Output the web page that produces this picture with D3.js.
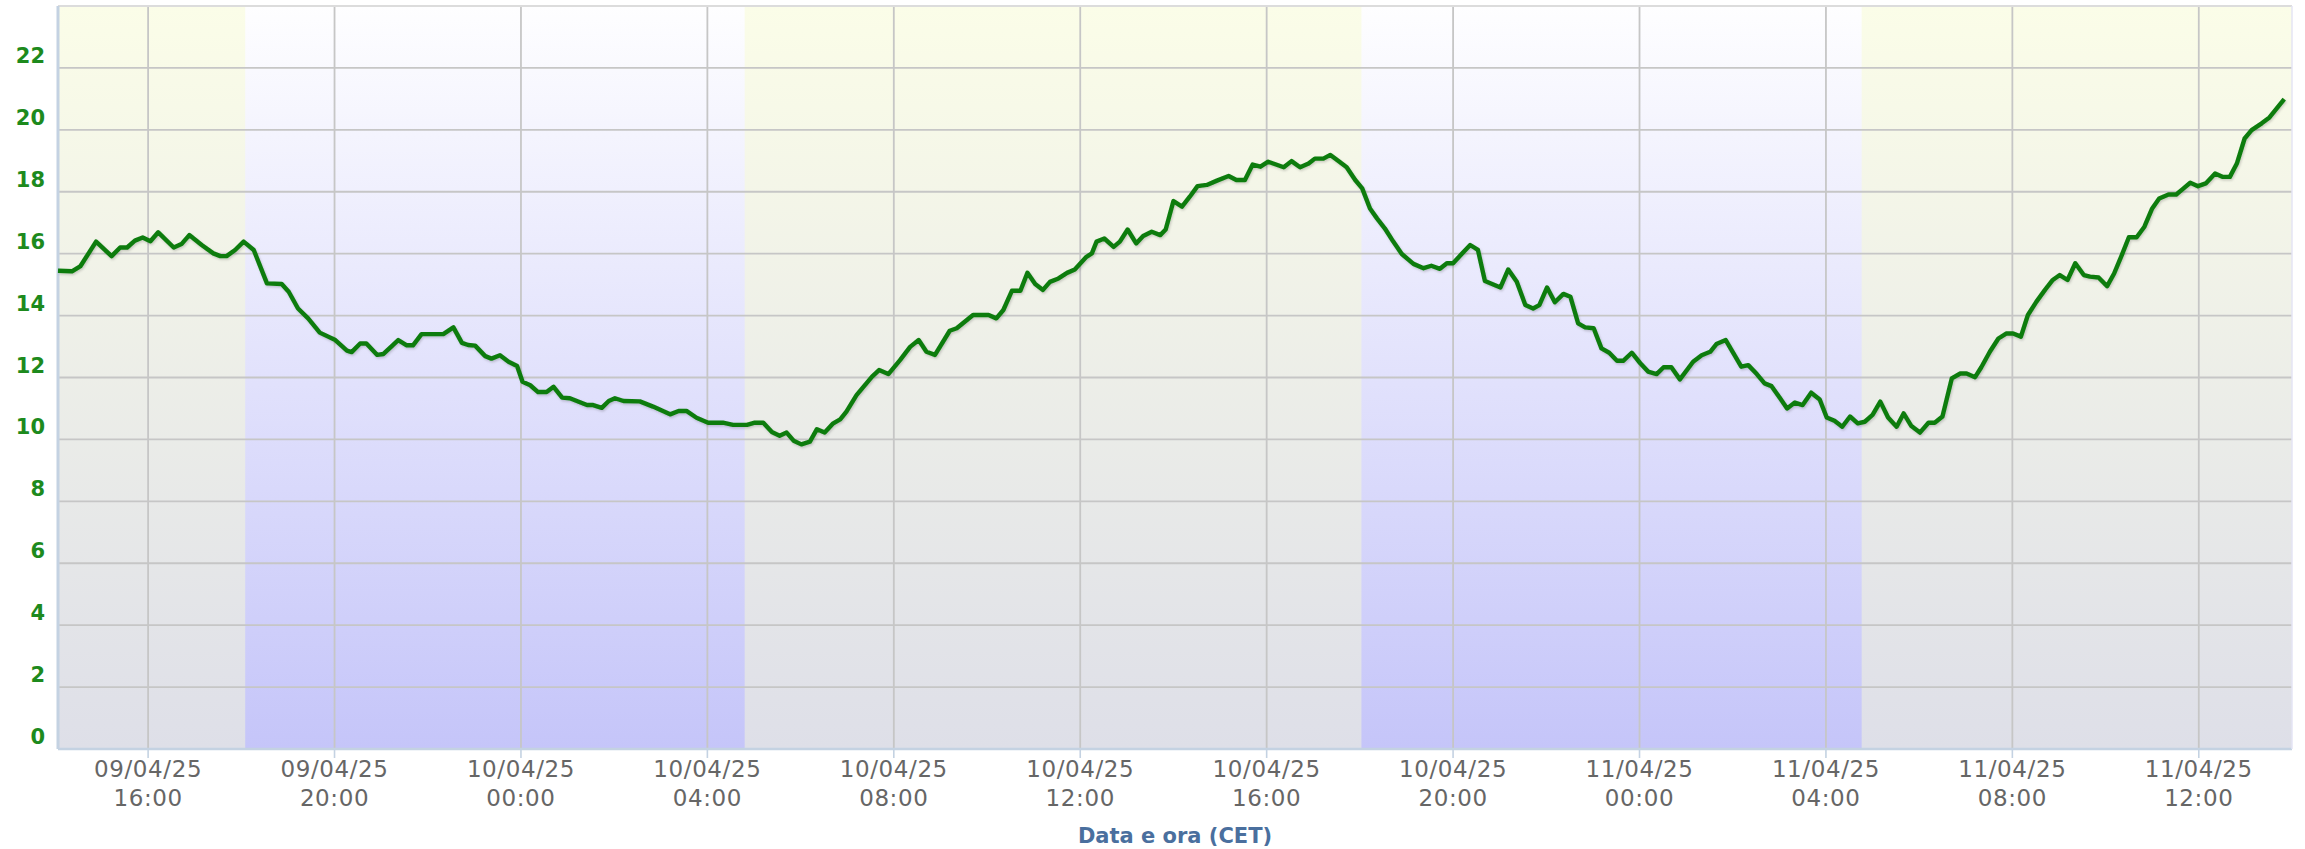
<!DOCTYPE html>
<html>
<head>
<meta charset="utf-8">
<script src="https://cdn.jsdelivr.net/npm/d3@7"></script>
<style>
  html, body { margin: 0; padding: 0; background: #fff; }
  #graf { width: 2305px; height: 849px; }
  text { font-family: "DejaVu Sans", Verdana, sans-serif; }
</style>
</head>
<body>
<div id="graf"></div>
<script>
//// DATI: orari (dd/mm HH:MM, anno 2025) e temperature (°C)
orari = [
  '09/04 14:04','09/04 14:22','09/04 14:33','09/04 14:53','09/04 15:13','09/04 15:24','09/04 15:33','09/04 15:43','09/04 15:53',
  '09/04 16:03','09/04 16:13','09/04 16:33','09/04 16:43','09/04 16:53','09/04 17:09','09/04 17:24','09/04 17:33','09/04 17:41',
  '09/04 17:52','09/04 18:03','09/04 18:16','09/04 18:33','09/04 18:52','09/04 19:01','09/04 19:13','09/04 19:26','09/04 19:41',
  '09/04 20:01','09/04 20:16','09/04 20:22','09/04 20:33','09/04 20:41','09/04 20:55','09/04 21:03','09/04 21:22','09/04 21:33',
  '09/04 21:41','09/04 21:52','09/04 22:20','09/04 22:33','09/04 22:44','09/04 22:52','09/04 23:01','09/04 23:14','09/04 23:22',
  '09/04 23:33','09/04 23:44','09/04 23:55',
  '10/04 00:02','10/04 00:12','10/04 00:22','10/04 00:33','10/04 00:42','10/04 00:53','10/04 01:03','10/04 01:25','10/04 01:33',
  '10/04 01:44','10/04 01:53','10/04 02:01','10/04 02:12','10/04 02:33','10/04 02:50','10/04 03:12','10/04 03:23','10/04 03:33',
  '10/04 03:46','10/04 04:01','10/04 04:20','10/04 04:33','10/04 04:51','10/04 05:01','10/04 05:12','10/04 05:23','10/04 05:33',
  '10/04 05:42','10/04 05:51','10/04 06:01','10/04 06:12','10/04 06:21','10/04 06:31','10/04 06:42','10/04 06:51','10/04 06:59',
  '10/04 07:12','10/04 07:32','10/04 07:41','10/04 07:53','10/04 08:08','10/04 08:21','10/04 08:32','10/04 08:42','10/04 08:53',
  '10/04 09:12','10/04 09:21','10/04 09:42','10/04 10:02','10/04 10:12','10/04 10:21','10/04 10:32','10/04 10:43','10/04 10:52',
  '10/04 11:02','10/04 11:12','10/04 11:21','10/04 11:32','10/04 11:43','10/04 11:53','10/04 12:08','10/04 12:15','10/04 12:21',
  '10/04 12:31','10/04 12:43','10/04 12:51','10/04 13:01','10/04 13:12','10/04 13:21','10/04 13:32','10/04 13:43','10/04 13:50',
  '10/04 14:00','10/04 14:11','10/04 14:21','10/04 14:31','10/04 14:43','10/04 14:56','10/04 15:11','10/04 15:21','10/04 15:32',
  '10/04 15:42','10/04 15:52','10/04 16:02','10/04 16:22','10/04 16:32','10/04 16:43','10/04 16:54','10/04 17:02','10/04 17:13',
  '10/04 17:22','10/04 17:32','10/04 17:43','10/04 17:54','10/04 18:03','10/04 18:13','10/04 18:22','10/04 18:32','10/04 18:43',
  '10/04 18:54','10/04 19:09','10/04 19:22','10/04 19:32','10/04 19:43','10/04 19:52','10/04 20:00','10/04 20:11','10/04 20:22',
  '10/04 20:32','10/04 20:41','10/04 21:01','10/04 21:11','10/04 21:22','10/04 21:33','10/04 21:43','10/04 21:51','10/04 22:01',
  '10/04 22:11','10/04 22:22','10/04 22:31','10/04 22:41','10/04 22:50','10/04 23:01','10/04 23:11','10/04 23:21','10/04 23:31',
  '10/04 23:39','10/04 23:50',
  '11/04 00:01','11/04 00:11','11/04 00:22','11/04 00:31','11/04 00:41','11/04 00:52','11/04 01:09','11/04 01:20','11/04 01:31',
  '11/04 01:39','11/04 01:51','11/04 02:11','11/04 02:20','11/04 02:31','11/04 02:41','11/04 02:50','11/04 03:01','11/04 03:10',
  '11/04 03:20','11/04 03:30','11/04 03:41','11/04 03:52','11/04 04:01','11/04 04:11','11/04 04:21','11/04 04:31','11/04 04:41',
  '11/04 04:50','11/04 05:00','11/04 05:10','11/04 05:20','11/04 05:31','11/04 05:40','11/04 05:50','11/04 06:01','11/04 06:12',
  '11/04 06:20','11/04 06:30','11/04 06:42','11/04 06:53','11/04 07:01','11/04 07:12','11/04 07:20','11/04 07:31','11/04 07:42',
  '11/04 07:52','11/04 08:01','11/04 08:11','11/04 08:20','11/04 08:31','11/04 08:42','11/04 08:52','11/04 09:01','11/04 09:11',
  '11/04 09:21','11/04 09:32','11/04 09:40','11/04 09:51','11/04 10:02','11/04 10:11','11/04 10:21','11/04 10:30','11/04 10:40',
  '11/04 10:50','11/04 11:00','11/04 11:09','11/04 11:21','11/04 11:31','11/04 11:40','11/04 11:49','11/04 11:59','11/04 12:09',
  '11/04 12:21','11/04 12:31','11/04 12:40','11/04 12:49','11/04 12:59','11/04 13:08','11/04 13:21','11/04 13:31','11/04 13:50'
]
temperature = [
  15.45,15.43,15.6,16.39,15.92,16.2,16.2,16.42,16.52,
  16.4,16.69,16.2,16.31,16.6,16.28,16.01,15.92,15.92,
  16.12,16.39,16.12,15.04,15.02,14.77,14.23,13.91,13.45,
  13.21,12.87,12.82,13.1,13.1,12.73,12.76,13.21,13.04,
  13.04,13.4,13.4,13.62,13.12,13.05,13.03,12.69,12.61,
  12.72,12.51,12.37,
  11.86,11.75,11.53,11.53,11.7,11.35,11.33,11.11,11.11,
  11.02,11.24,11.33,11.24,11.23,11.06,10.81,10.92,10.92,
  10.7,10.54,10.54,10.47,10.47,10.54,10.54,10.24,10.12,
  10.22,9.96,9.84,9.93,10.33,10.22,10.52,10.65,10.9,
  11.43,12.03,12.24,12.11,12.56,12.99,13.21,12.83,12.73,
  13.51,13.59,14.02,14.02,13.91,14.18,14.8,14.8,15.38,
  15.02,14.83,15.09,15.2,15.38,15.49,15.9,16.01,16.39,
  16.49,16.22,16.39,16.78,16.33,16.57,16.71,16.6,16.78,
  17.7,17.52,17.84,18.18,18.22,18.36,18.51,18.38,18.38,
  18.88,18.81,18.97,18.79,18.99,18.79,18.91,19.07,19.07,
  19.19,19.0,18.79,18.38,18.11,17.46,17.14,16.82,16.39,
  15.99,15.67,15.53,15.61,15.51,15.69,15.69,15.99,16.28,
  16.12,15.12,14.91,15.49,15.09,14.34,14.23,14.34,14.91,
  14.43,14.7,14.61,13.75,13.62,13.59,12.94,12.8,12.54,
  12.54,12.8,
  12.46,12.19,12.11,12.33,12.33,11.94,12.51,12.72,12.83,
  13.08,13.21,12.35,12.4,12.11,11.81,11.72,11.33,11.0,
  11.19,11.11,11.51,11.29,10.71,10.6,10.41,10.74,10.52,
  10.57,10.79,11.22,10.71,10.41,10.84,10.43,10.22,10.54,
  10.54,10.74,11.97,12.13,12.13,12.01,12.33,12.83,13.26,
  13.42,13.42,13.32,14.02,14.45,14.83,15.15,15.31,15.15,
  15.69,15.31,15.26,15.23,14.95,15.36,15.96,16.53,16.53,
  16.87,17.46,17.78,17.91,17.91,18.1,18.29,18.18,18.27,
  18.59,18.48,18.48,18.91,19.72,19.99,20.21,20.4,20.99
]
//// FASCE NOTTURNE (inizio, fine)
notteInizio = ['09/04 18:05', '10/04 18:02']
notteFine   = ['10/04 04:48', '11/04 04:46']
//// DOMINIO ASSI
inizioAsse = '09/04 14:04'
fineAsse   = '11/04 14:00'
yTicks = [0, 2, 4, 6, 8, 10, 12, 14, 16, 18, 20, 22]

parseTime = d3.timeParse('%d/%m %H:%M %Y')
p = s => parseTime(s + ' 2025')

data = orari.map((o, i) => ({ date: p(o), temp: temperature[i] }))
notti = notteInizio.map((n, i) => ({ da: p(n), a: p(notteFine[i]) }))

//// DIMENSIONI
ancho_total = 2305
alto_total = 849
margins = { top: 6, left: 58, right: 13, bottom: 100 }
ancho = ancho_total - margins.left - margins.right
alto = alto_total - margins.top - margins.bottom

svg = d3.select('#graf').append('svg')
  .attr('width', ancho_total)
  .attr('height', alto_total)

defs = svg.append('defs')
gDia = defs.append('linearGradient').attr('id', 'giorno')
  .attr('x1', 0).attr('y1', 0).attr('x2', 0).attr('y2', 1)
gDia.append('stop').attr('offset', '0%').attr('stop-color', '#fbfde8')
gDia.append('stop').attr('offset', '100%').attr('stop-color', '#dedfe8')
gNotte = defs.append('linearGradient').attr('id', 'notte')
  .attr('x1', 0).attr('y1', 0).attr('x2', 0).attr('y2', 1)
gNotte.append('stop').attr('offset', '0%').attr('stop-color', '#fefeff')
gNotte.append('stop').attr('offset', '100%').attr('stop-color', '#c5c5f9')
ombra = defs.append('filter').attr('id', 'ombra')
  .attr('x', '-5%').attr('y', '-5%').attr('width', '110%').attr('height', '120%')
ombra.append('feDropShadow').attr('dx', 1).attr('dy', 1.5)
  .attr('stdDeviation', 1.2).attr('flood-color', '#000').attr('flood-opacity', 0.18)

g = svg.append('g').attr('transform', `translate(${margins.left},${margins.top})`)

//// SCALE
x = d3.scaleTime().domain([p(inizioAsse), p(fineAsse)]).range([0, ancho])
y = d3.scaleLinear().domain([0, 24]).range([alto, 0])

//// SFONDO E FASCE NOTTURNE
g.append('rect').attr('width', ancho).attr('height', alto).attr('fill', 'url(#giorno)')
g.selectAll('.notte').data(notti).enter().append('rect')
  .attr('class', 'notte')
  .attr('x', d => x(d.da))
  .attr('width', d => x(d.a) - x(d.da))
  .attr('y', 0).attr('height', alto)
  .attr('fill', 'url(#notte)')

//// GRIGLIA
xTicks = x.ticks(d3.timeHour.every(4))
g.selectAll('.gx').data(xTicks).enter().append('line')
  .attr('x1', d => x(d)).attr('x2', d => x(d))
  .attr('y1', 0).attr('y2', alto)
  .attr('stroke', '#c6c6c6').attr('stroke-width', 1.8)
g.selectAll('.gy').data(yTicks.concat([24])).enter().append('line')
  .attr('x1', 0).attr('x2', ancho)
  .attr('y1', d => y(d)).attr('y2', d => y(d))
  .attr('stroke', d => d === 24 ? '#dcdcdc' : '#c6c6c6').attr('stroke-width', 1.8)

//// BORDI ASSI
g.append('line').attr('x1', 0).attr('x2', 0).attr('y1', 0).attr('y2', alto)
  .attr('stroke', '#c4d2e2').attr('stroke-width', 3)
g.append('line').attr('x1', 0).attr('x2', ancho).attr('y1', alto).attr('y2', alto)
  .attr('stroke', '#c4d2e2').attr('stroke-width', 2.5)
g.append('line').attr('x1', ancho).attr('x2', ancho).attr('y1', 0).attr('y2', alto)
  .attr('stroke', '#e4e4f4').attr('stroke-width', 1.5)

//// LINEA TEMPERATURA
linea = d3.line().x(d => x(d.date)).y(d => y(d.temp))
g.append('path')
  .datum(data)
  .attr('fill', 'none')
  .attr('stroke', '#0c7c0c')
  .attr('stroke-width', 4.4)
  .attr('stroke-linejoin', 'round')
  .attr('filter', 'url(#ombra)')
  .attr('d', linea)

//// ETICHETTE ASSE Y
g.selectAll('.ly').data(yTicks).enter().append('text')
  .attr('x', -13)
  .attr('y', d => y(d) - 5)
  .attr('text-anchor', 'end')
  .attr('font-size', 21)
  .attr('font-weight', 'bold')
  .attr('fill', '#1d8a1d')
  .text(d => d)

//// ASSE X: TACCHE ED ETICHETTE
fData = d3.timeFormat('%d/%m/%y')
fOra = d3.timeFormat('%H:%M')
g.selectAll('.tx').data(xTicks).enter().append('line')
  .attr('x1', d => x(d)).attr('x2', d => x(d))
  .attr('y1', alto).attr('y2', alto + 9)
  .attr('stroke', '#c4d2e2').attr('stroke-width', 1.6)
lx = g.selectAll('.lx').data(xTicks).enter().append('text')
  .attr('text-anchor', 'middle')
  .attr('font-size', 23)
  .attr('letter-spacing', 0.6)
  .attr('fill', '#666')
lx.append('tspan').attr('x', d => x(d)).attr('y', alto + 28).text(d => fData(d))
lx.append('tspan').attr('x', d => x(d)).attr('y', alto + 57).text(d => fOra(d))

g.append('text')
  .attr('x', ancho / 2)
  .attr('y', alto + 94)
  .attr('text-anchor', 'middle')
  .attr('font-size', 21)
  .attr('font-weight', 'bold')
  .attr('fill', '#4a6f9e')
  .text('Data e ora (CET)')
</script>
</body>
</html>
